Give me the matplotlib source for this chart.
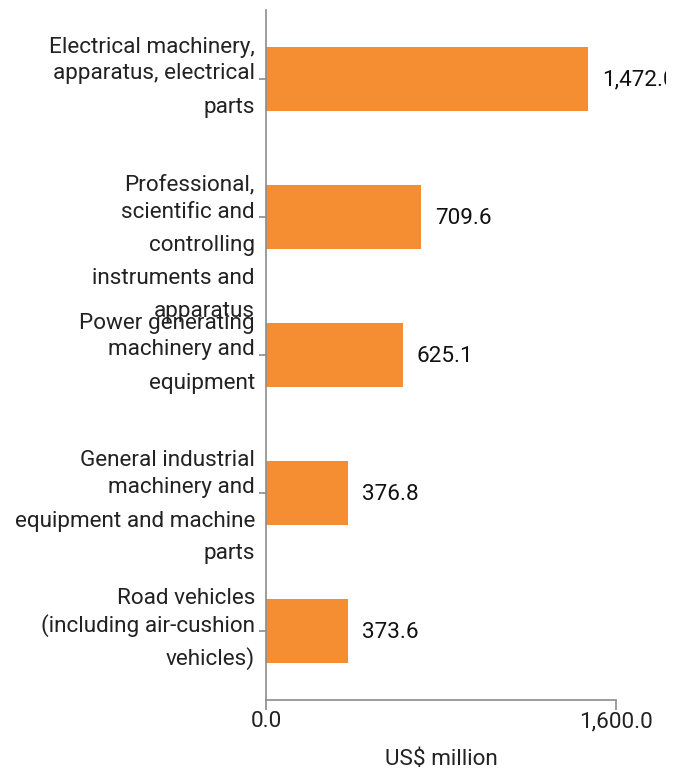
import matplotlib
matplotlib.use("Agg")
import matplotlib.pyplot as plt
from matplotlib.patches import Rectangle

categories = [
    ["Electrical machinery,", "apparatus, electrical", "parts"],
    ["Professional,", "scientific and", "controlling", "instruments and", "apparatus"],
    ["Power generating", "machinery and", "equipment"],
    ["General industrial", "machinery and", "equipment and machine", "parts"],
    ["Road vehicles", "(including air-cushion", "vehicles)"],
]
values = [1472.0, 709.6, 625.1, 376.8, 373.6]
x_ticks = [0, 1600]
x_tick_labels = ["0.0", "1,600.0"]
x_label = "US$ million"

BAR_COLOR = "#F58D33"
AXIS_COLOR = "#8c8c8c"
TEXT_COLOR = "#222222"
FONT = "Roboto"
FS = 16.2

plt.rcParams["font.family"] = [FONT, "DejaVu Sans"]

fig = plt.figure(figsize=(6.86, 7.73), dpi=100)
ax = fig.add_axes([266 / 686, 1 - 700 / 773, 350 / 686, 690 / 773])

ypos = list(range(len(values)))
ax.barh(ypos, values, height=64 / 138, color=BAR_COLOR, zorder=2)
ax.set_ylim(len(values) - 0.5, -0.5)
ax.set_xlim(0, 1600)

for s in ("top", "right"):
    ax.spines[s].set_visible(False)
for s in ("left", "bottom"):
    ax.spines[s].set_color(AXIS_COLOR)
    ax.spines[s].set_linewidth(1.2)

ax.set_xticks(x_ticks)
ax.set_xticklabels(x_tick_labels, fontsize=FS, color=TEXT_COLOR)
ax.tick_params(axis="x", length=7, color=AXIS_COLOR, width=1.2, pad=1)
ax.set_yticks(ypos)
ax.set_yticklabels([""] * len(ypos))
ax.tick_params(axis="y", length=5, color=AXIS_COLOR, width=1.2)

ax.set_xlabel(x_label, fontsize=FS, color=TEXT_COLOR, labelpad=12)

# Wrapped category labels: first two lines tight, later lines spaced wider
for i, lines in enumerate(categories):
    for j, line in enumerate(lines):
        off = [-34, -7][j] if j < 2 else -7 + 33 * (j - 1)
        ax.annotate(line, xy=(0, i), xycoords=("axes fraction", "data"),
                    xytext=(-11, -off - 2), textcoords="offset pixels",
                    ha="right", va="center", fontsize=FS, color=TEXT_COLOR,
                    annotation_clip=False)

clip = Rectangle((0, 0), 666 / 686, 1, transform=fig.transFigure, visible=False)
fig.add_artist(clip)
for i, v in enumerate(values):
    t = ax.annotate(f"{v:,.1f}", xy=(v, i), xytext=(14, -1), textcoords="offset pixels",
                    ha="left", va="center", fontsize=FS, color="#111111",
                    annotation_clip=False)
    t.set_clip_path(clip)
    t.set_clip_on(True)

fig.savefig("out.png", dpi=100, facecolor="white")
